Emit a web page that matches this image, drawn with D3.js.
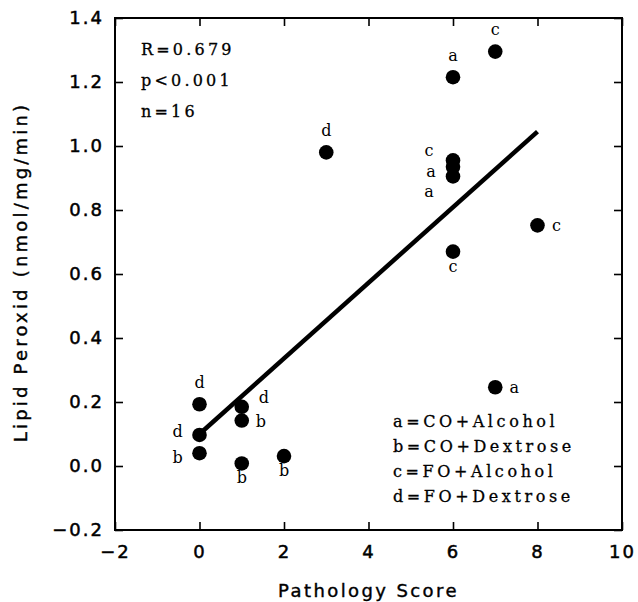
<!DOCTYPE html>
<html>
<head>
<meta charset="utf-8">
<script src="https://cdn.jsdelivr.net/npm/d3@7"></script>
<style>
  body { margin: 0; background: white; }
  svg { display: block; }
</style>
</head>
<body>
<div id="visualization"></div>
<script>
// data
let scores  = [6, 7, 3, 6, 6, 6, 6, 8, 7, 0, 0, 0, 1, 1, 1, 2];
let peroxid = [1.215, 1.295, 0.98, 0.955, 0.935, 0.905, 0.67, 0.752, 0.246, 0.193, 0.097, 0.04, 0.185, 0.142, 0.008, 0.031];
let groups  = ["a", "c", "d", "c", "a", "a", "c", "c", "a", "d", "d", "b", "d", "b", "b", "b"];
// which side of the dot the letter sits on
let labelSide = ["n", "n", "n", "nw", "w", "sw", "s", "e", "e", "n", "wn", "w", "ne", "e", "s", "s"];

// regression line ends
let fitX = [0, 8];
let fitY = [0.1, 1.045];

let xTicks = [-2, 0, 2, 4, 6, 8, 10];
let yTicks = [-0.2, 0, 0.2, 0.4, 0.6, 0.8, 1.0, 1.2, 1.4];

let stats = ["R=0.679", "p<0.001", "n=16"];
let groupKeys = ["a", "b", "c", "d"];
let groupNames = ["CO+Alcohol", "CO+Dextrose", "FO+Alcohol", "FO+Dextrose"];

let w = 638, h = 602;
// plot box edges (window.top is taken, so prefix these)
let boxLeft = 115, boxRight = 622, boxTop = 18, boxBottom = 530;

let viz = d3.select("#visualization")
  .append("svg")
    .attr("width", w)
    .attr("height", h)
    .style("background-color", "white");

let xScale = d3.scaleLinear().domain([-2, 10]).range([boxLeft, boxRight]);
let yScale = d3.scaleLinear().domain([-0.2, 1.4]).range([boxBottom, boxTop]);

let sans = "'DejaVu Sans', sans-serif";
let serif = "'DejaVu Serif', serif";

// axes, all ticks point inwards
let xAxis = d3.axisBottom(xScale).tickValues(xTicks).tickFormat(d3.format("d"))
  .tickSizeInner(-8).tickSizeOuter(0).tickPadding(15);
let xTop = d3.axisTop(xScale).tickValues(xTicks).tickFormat("")
  .tickSizeInner(-8).tickSizeOuter(0);
let yAxis = d3.axisLeft(yScale).tickValues(yTicks).tickFormat(d3.format(".1f"))
  .tickSizeInner(-8).tickSizeOuter(0).tickPadding(11);
let yRight = d3.axisRight(yScale).tickValues(yTicks).tickFormat("")
  .tickSizeInner(-8).tickSizeOuter(0);

viz.append("g").attr("transform", "translate(0," + boxBottom + ")").call(xAxis);
viz.append("g").attr("transform", "translate(0," + boxTop + ")").call(xTop);
viz.append("g").attr("transform", "translate(" + boxLeft + ",0)").call(yAxis);
viz.append("g").attr("transform", "translate(" + boxRight + ",0)").call(yRight);

viz.selectAll(".domain").remove();
viz.selectAll(".tick line").attr("stroke", "black").attr("stroke-width", 1.6);
viz.selectAll(".tick text")
  .attr("fill", "black")
  .attr("stroke", "black")
  .attr("stroke-width", 0.5)
  .style("font-family", sans)
  .style("font-size", "18px")
  .style("letter-spacing", "2px");

// frame
viz.append("rect")
  .attr("x", boxLeft)
  .attr("y", boxTop)
  .attr("width", boxRight - boxLeft)
  .attr("height", boxBottom - boxTop)
  .attr("fill", "none")
  .attr("stroke", "black")
  .attr("stroke-width", 2);

// axis titles
viz.append("text")
  .text("Pathology Score")
  .attr("x", (boxLeft + boxRight) / 2)
  .attr("y", 597)
  .attr("text-anchor", "middle")
  .attr("stroke", "black")
  .attr("stroke-width", 0.4)
  .style("font-family", sans)
  .style("font-size", "18px")
  .style("letter-spacing", "2.4px");

viz.append("text")
  .text("Lipid Peroxid (nmol/mg/min)")
  .attr("transform", "translate(27," + 272 + ") rotate(-90)")
  .attr("text-anchor", "middle")
  .attr("stroke", "black")
  .attr("stroke-width", 0.4)
  .style("font-family", sans)
  .style("font-size", "18px")
  .style("letter-spacing", "3.2px");

// regression line
let fit = fitX.map(function(d, i){ return [d, fitY[i]]; });
let line = d3.line()
  .x(function(d){ return xScale(d[0]); })
  .y(function(d){ return yScale(d[1]); });

viz.append("path")
  .datum(fit)
  .attr("d", line)
  .attr("fill", "none")
  .attr("stroke", "black")
  .attr("stroke-width", 4.5);

// points
let points = scores.map(function(d, i){
  return { score: d, value: peroxid[i], group: groups[i], side: labelSide[i] };
});

viz.selectAll(".dot").data(points).enter()
  .append("circle")
  .classed("dot", true)
  .attr("cx", function(d){ return xScale(d.score); })
  .attr("cy", function(d){ return yScale(d.value); })
  .attr("r", 7.3)
  .attr("fill", "black");

// letter offsets for each side
let offsets = {
  n:  [0, -16.5],
  s:  [0, 20],
  e:  [19, 6],
  ne: [22, -4],
  w:  [-22, 10],
  wn: [-22, 2],
  nw: [-24, -4],
  sw: [-24, 21]
};

viz.selectAll(".lab").data(points).enter()
  .append("text")
  .classed("lab", true)
  .text(function(d){ return d.group; })
  .attr("x", function(d){ return xScale(d.score) + offsets[d.side][0]; })
  .attr("y", function(d){ return yScale(d.value) + offsets[d.side][1]; })
  .attr("text-anchor", "middle")
  .style("font-family", serif)
  .style("font-size", "16px");

// stats block, top left
viz.selectAll(".stat").data(stats).enter()
  .append("text")
  .classed("stat", true)
  .text(function(d){ return d; })
  .attr("x", 141)
  .attr("y", function(d, i){ return 55 + i * 31; })
  .attr("stroke", "black")
  .attr("stroke-width", 0.3)
  .style("font-family", serif)
  .style("font-size", "16px")
  .style("letter-spacing", "3.2px");

// legend
viz.selectAll(".legend").data(groupKeys).enter()
  .append("text")
  .classed("legend", true)
  .text(function(d, i){ return d + "=" + groupNames[i]; })
  .attr("x", 393)
  .attr("y", function(d, i){ return 426.5 + i * 25; })
  .attr("stroke", "black")
  .attr("stroke-width", 0.3)
  .style("font-family", serif)
  .style("font-size", "16px")
  .style("letter-spacing", "3.6px");
</script>
</body>
</html>
